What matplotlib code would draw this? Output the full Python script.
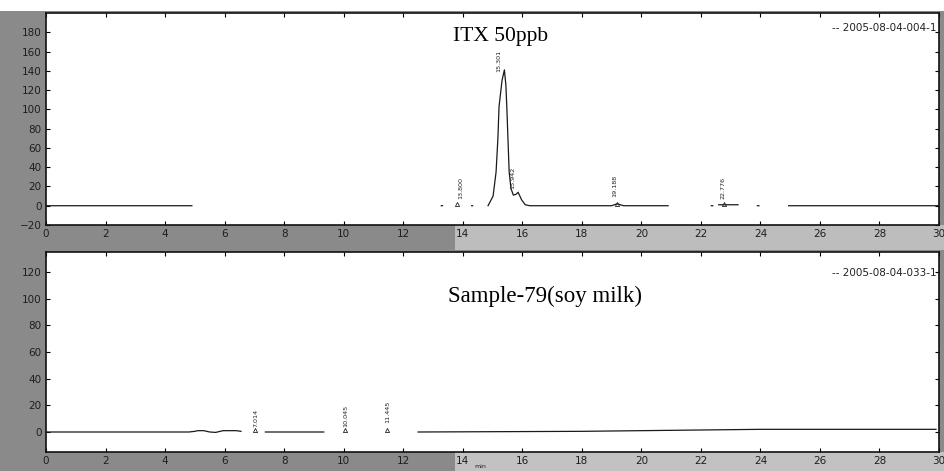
import numpy as np
import matplotlib
matplotlib.use("Agg")
import matplotlib.pyplot as plt
from matplotlib.patches import Rectangle

nan = np.nan

# ---- data (time in min, signal) ----
top_time = [0, 4.9, nan, 13.28, 13.32, nan, 14.3, 14.33, nan,
            14.85, 15.02, 15.12, 15.18, 15.22, 15.32, 15.40, 15.45, 15.48, 15.52,
            15.56, 15.62, 15.70, 15.80, 15.86, 15.98, 16.10, 16.25, 19.0, 19.19, 19.4,
            20.9, nan, 22.35, 22.4, nan, 22.6, 23.25, nan, 23.9, 23.95, nan, 24.95, 30.0]
top_signal = [0, 0, nan, 0, 0, nan, 0, 0, nan,
              0, 10, 35, 69, 103, 130, 141, 125, 103, 69,
              35, 18, 11, 12, 14, 6, 1, 0, 0, 2, 0,
              0, nan, 0, 0, nan, 1, 1, nan, 0, 0, nan, 0, 0]

bot_time = [0, 4.8, 5.0, 5.1, 5.3, 5.5, 5.7, 5.95, 6.4, 6.55, nan,
            7.37, 9.33, nan, 12.5, 18.0, 24.0, 29.9]
bot_signal = [0, 0, 0.5, 1, 1, 0, -0.3, 1, 1, 0.5, nan,
              0, 0, nan, 0, 0.5, 2, 2]

top_peaks = [13.800, 15.301, 15.942, 19.188, 22.776]
top_peak_labels = ["13.800", "15.301", "15.942", "19.188", "22.776"]
top_label_x = [13.92, 15.22, 15.69, 19.09, 22.76]
top_label_y = [7, 139, 17, 9, 7]
bot_peaks = [7.014, 10.045, 11.445]
bot_peak_labels = ["7.014", "10.045", "11.445"]
bot_label_x = [7.04, 10.07, 11.48]
bot_label_y = [4, 4, 7]

x_ticks = list(range(0, 31, 2))
top_yticks = list(range(-20, 181, 20))
bot_yticks = list(range(0, 121, 20))

# ---- figure ----
W, H = 944, 471
fig = plt.figure(figsize=(W / 100, H / 100), dpi=100, facecolor="#8a8a8a")

def fx(px):
    return px / W

def fy(py):
    return 1 - py / H

# background shading strips (scan look)
fig.patches.append(Rectangle((0, fy(11)), 1, 11 / H, transform=fig.transFigure,
                             facecolor="white", edgecolor="none", zorder=-5))
fig.patches.append(Rectangle((fx(455), fy(250)), 1 - fx(455), 25 / H, transform=fig.transFigure,
                             facecolor="#bdbdbd", edgecolor="none", zorder=-5))
fig.patches.append(Rectangle((fx(455), 0), 1 - fx(455), 19 / H, transform=fig.transFigure,
                             facecolor="#c2c2c2", edgecolor="none", zorder=-5))

ax1 = fig.add_axes([fx(46), fy(225), fx(893), 212 / H])
ax2 = fig.add_axes([fx(46), fy(452), fx(893), 200 / H])

serif = ["Liberation Serif", "DejaVu Serif"]

for ax in (ax1, ax2):
    ax.set_xlim(0, 30)
    ax.set_xticks(x_ticks)
    ax.tick_params(direction="in", length=3, width=0.8, top=True, right=True,
                   labelsize=7.5, labelcolor="#1e1e1e", pad=3)
    for s in ax.spines.values():
        s.set_linewidth(1.2)
        s.set_color("#111111")

ax1.set_ylim(-20, 200)
ax1.set_yticks(top_yticks)
ax2.set_ylim(-15, 135)
ax2.set_yticks(bot_yticks)

ax1.plot(top_time, top_signal, color="#1a1a1a", lw=0.9)
ax2.plot(bot_time, bot_signal, color="#1a1a1a", lw=0.9)

# peak markers for small integrated peaks
ax1.plot([top_peaks[0], top_peaks[3], top_peaks[4]], [1.5, 1.5, 1.5], ls="none",
         marker="^", ms=3, mfc="none", mec="#222222", mew=0.6)
ax2.plot(bot_peaks, [1.5] * len(bot_peaks), ls="none",
         marker="^", ms=3, mfc="none", mec="#222222", mew=0.6)

for t, lab, yy in zip(top_label_x, top_peak_labels, top_label_y):
    ax1.text(t, yy, lab, rotation=90, fontsize=4.6, ha="center", va="bottom",
             color="#222222")
for t, lab, yy in zip(bot_label_x, bot_peak_labels, bot_label_y):
    ax2.text(t, yy, lab, rotation=90, fontsize=4.6, ha="center", va="bottom",
             color="#222222")

ax1.text((453 - 46) / 893, (225 - 41) / 212, "ITX 50ppb", transform=ax1.transAxes,
         fontsize=15.5, family=serif, ha="left", va="baseline")
ax2.text((448 - 46) / 893, (452 - 302) / 200, "Sample-79(soy milk)", transform=ax2.transAxes,
         fontsize=16.5, family=serif, ha="left", va="baseline")
ax1.text(0.997, (225 - 28) / 212, "-- 2005-08-04-004-1", transform=ax1.transAxes,
         fontsize=7.5, ha="right", va="center", color="#222222")
ax2.text(0.997, (452 - 273) / 200, "-- 2005-08-04-033-1", transform=ax2.transAxes,
         fontsize=7.5, ha="right", va="center", color="#222222")
fig.text(fx(480), fy(467), "min", fontsize=4.5, ha="center", va="center", color="#222222")

fig.savefig("out.png", dpi=100, facecolor=fig.get_facecolor())
